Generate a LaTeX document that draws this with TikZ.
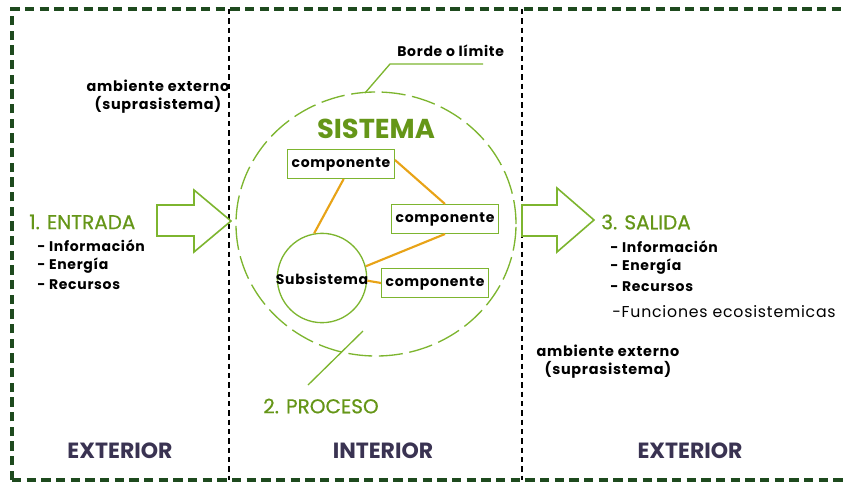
\documentclass[tikz,border=0pt]{standalone}
\usepackage{fontspec}
\setmainfont{Poppins}
\newfontfamily\widefont[LetterSpace=5]{Poppins}
\newfontfamily\headfont[FakeBold=0.6]{Poppins}
\usetikzlibrary{shapes.geometric}
\definecolor{lgreen}{HTML}{7DB52F}
\definecolor{tgreen}{HTML}{659618}
\definecolor{dgreen}{HTML}{1E4A1E}
\definecolor{orng}{HTML}{E8A317}
\definecolor{navy}{HTML}{3A3352}
\tikzset{
  frame/.style={dgreen, line width=2.4pt, dash pattern=on 7pt off 4pt},
  divider/.style={black, line width=0.8pt, dash pattern=on 4pt off 3pt},
  comp/.style={draw=lgreen, line width=1pt, fill=white, inner sep=0pt, minimum width=80pt, minimum height=21.5pt, font=\widefont\fontsize{10.5}{12}\selectfont\bfseries},
  link/.style={orng, line width=1.6pt},
  item/.style={anchor=west, font=\widefont\fontsize{10.5}{12}\selectfont\bfseries, inner sep=0pt},
  head/.style={anchor=west, text=tgreen, font=\headfont\fontsize{15}{17}\selectfont, inner sep=0pt},
  region/.style={text=navy, font=\fontsize{16.5}{18}\selectfont\bfseries, inner sep=0pt},
  amb/.style={align=center, font=\widefont\fontsize{10.8}{13.5}\selectfont\bfseries, inner sep=0pt},
  blockarrow/.style={draw=lgreen, line width=1.2pt, fill=white},
  pointer/.style={lgreen, line width=1pt}
}
\begin{document}
\begin{tikzpicture}[x=0.75pt,y=-0.75pt]
\useasboundingbox (0,0) rectangle (843,483);
% frame
\draw[frame] (12,480) -- (12,9) -- (843,9);
\draw[frame] (12,480) -- (843,480);
\draw[divider] (229,9) -- (229,480);
\draw[divider] (522,9) -- (522,480);

% system ellipse
\node[draw=lgreen, line width=1pt, dash pattern=on 18pt off 5pt, ellipse, minimum width=210pt, minimum height=198pt, inner sep=0pt] (sys) at (376,224) {};
\node[text=tgreen, font=\fontsize{20.5}{24}\selectfont\bfseries, inner sep=0pt] (sistema) at (376,129) {SISTEMA};

% subsystem
\node[draw=lgreen, line width=1pt, circle, minimum size=67pt, inner sep=0pt] (sub) at (322,278) {};
\node[font=\widefont\fontsize{10.5}{12}\selectfont\bfseries, inner sep=0pt] (subl) at (322,279) {Subsistema};

% components
\node[comp] (c1) at (341,164) {componente};
\node[comp] (c2) at (445,219) {componente};
\node[comp] (c3) at (435,283) {componente};

% links
\coordinate (c1s) at ([xshift=2pt]c1.south);
\draw[link] (c1s) -- (sub.100);
\coordinate (c1e) at ([yshift=3pt]c1.east);
\draw[link] (c1e) -- (c2.north);
\draw[link] (c2.south) -- (sub.15);
\coordinate (sube) at ([yshift=-2pt]sub.east);
\draw[link] (sube) -- (c3.west);

% arrows
\draw[blockarrow] (157,205) -- (194,205) -- (194,190) -- (231,221) -- (194,252) -- (194,236) -- (157,236) -- cycle;
\draw[blockarrow] (522,205) -- (557,205) -- (557,188) -- (594,220) -- (557,252) -- (557,236) -- (522,236) -- cycle;

% pointer lines
\coordinate (bt) at (365,93);
\coordinate (bm) at (390,64);
\coordinate (be) at (483,64);
\draw[pointer] (bt) -- (bm) -- (be);
\coordinate (p1) at (308,385);
\coordinate (p2) at (363,331);
\draw[pointer] (p1) -- (p2);

% labels
\node[anchor=west, font=\widefont\fontsize{10.5}{12}\selectfont\bfseries, inner sep=0pt] (borde) at (397,51) {Borde o límite};
\node[amb] (amb1) at (158,97) {ambiente externo\\(suprasistema)};
\node[amb] (amb2) at (608,362) {ambiente externo\\(suprasistema)};

\node[head] (entrada) at (29,222) {1. ENTRADA};
\node[item] (e1) at (37,246) {- Información};
\node[item] (e2) at (37,266) {- Energía};
\node[item] (e3) at (37,285) {- Recursos};

\node[head] (salida) at (601,222) {3. SALIDA};
\node[item] (s1) at (610,247) {- Información};
\node[item] (s2) at (610,267) {- Energía};
\node[item] (s3) at (610,287) {- Recursos};
\node[anchor=west, font=\widefont\fontsize{11.8}{13}\selectfont, inner sep=0pt] (s4) at (612,312) {-Funciones ecosistemicas};

\node[head] (proceso) at (263,406) {2. PROCESO};

\node[region] (ext1) at (120,451) {EXTERIOR};
\node[region] (int) at (383,451) {INTERIOR};
\node[region] (ext2) at (690,451) {EXTERIOR};
\end{tikzpicture}
\end{document}
